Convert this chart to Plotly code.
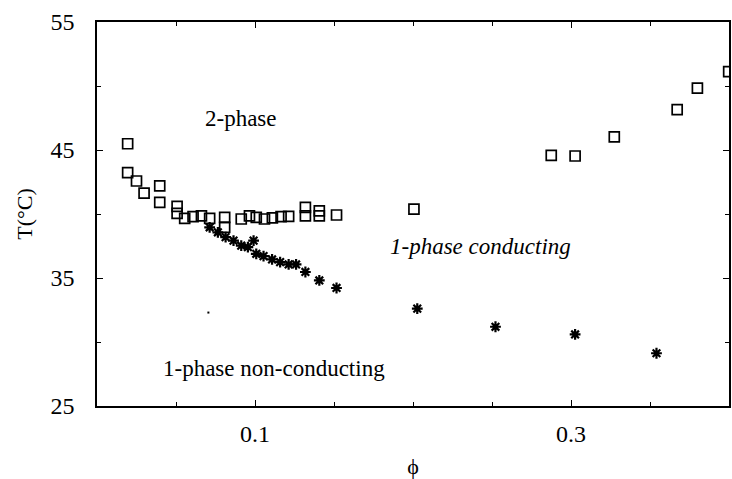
import plotly.graph_objects as go

# Data
sq_x = [0.0194, 0.0194, 0.0250, 0.0298, 0.0397, 0.0397, 0.0507, 0.0507, 0.0555, 0.0608,
        0.0661, 0.0713, 0.0808, 0.0808, 0.0913, 0.0965, 0.1008, 0.1060, 0.1110, 0.1165,
        0.1213, 0.1319, 0.1319, 0.1407, 0.1407, 0.1516,
        0.2006, 0.2875, 0.3026, 0.3274, 0.3672, 0.3800, 0.3998]
sq_T = [45.49, 43.24, 42.58, 41.63, 42.20, 40.91, 40.59, 40.05, 39.66, 39.79,
        39.86, 39.66, 39.74, 38.96, 39.61, 39.86, 39.74, 39.61, 39.69, 39.79,
        39.82, 40.52, 39.86, 40.25, 39.86, 39.92,
        40.38, 44.58, 44.53, 46.03, 48.15, 49.84, 51.13]

st_x = [0.0713, 0.0765, 0.0814, 0.0864, 0.0913, 0.0955, 0.0991, 0.1008, 0.1054, 0.1108,
        0.1159, 0.1213, 0.1260, 0.1319, 0.1407, 0.1516,
        0.2027, 0.2522, 0.3026, 0.3541]
st_T = [38.96, 38.57, 38.19, 37.92, 37.53, 37.41, 37.92, 36.89, 36.71, 36.45,
        36.24, 36.06, 36.06, 35.47, 34.81, 34.22,
        32.61, 31.19, 30.59, 29.12]

dot_x = [0.0705]
dot_T = [32.3]

x_ticks = [0.1, 0.3]
x_tick_text = ["0.1", "0.3"]
y_ticks = [25, 35, 45, 55]
y_tick_text = ["25", "35", "45", "55"]

labels = [
    dict(x=0.0909, y=47.45, text="2-phase", italic=False),
    dict(x=0.2429, y=37.5, text="1-phase conducting", italic=True),
    dict(x=0.1123, y=27.95, text="1-phase non-conducting", italic=False),
]

SERIF = "Liberation Serif, Times New Roman, serif"

fig = go.Figure()
fig.add_trace(go.Scatter(
    x=sq_x, y=sq_T, mode="markers",
    marker=dict(symbol="square-open", size=10, color="black", line=dict(width=1.7, color="black")),
    showlegend=False, hoverinfo="skip"))
fig.add_trace(go.Scatter(
    x=st_x, y=st_T, mode="markers",
    marker=dict(symbol="asterisk-open", size=9, color="black", line=dict(width=2.2, color="black")),
    showlegend=False, hoverinfo="skip"))
fig.add_trace(go.Scatter(
    x=dot_x, y=dot_T, mode="markers",
    marker=dict(symbol="square", size=2, color="black"),
    showlegend=False, hoverinfo="skip"))

for lb in labels:
    txt = f"<i>{lb['text']}</i>" if lb["italic"] else lb["text"]
    fig.add_annotation(x=lb["x"], y=lb["y"], text=txt, showarrow=False,
                       font=dict(family=SERIF, size=23, color="black"),
                       xanchor="center", yanchor="middle")

fig.update_layout(
    width=732, height=479,
    margin=dict(l=97, r=1, t=22, b=71),
    paper_bgcolor="white", plot_bgcolor="white",
    font=dict(family=SERIF, color="black"),
)
fig.update_xaxes(
    range=[0, 0.4], tickvals=x_ticks, ticktext=x_tick_text,
    ticks="inside", ticklen=6, tickwidth=1.2, tickcolor="black",
    showline=True, linecolor="black", linewidth=1.5, mirror="ticks",
    showgrid=False, zeroline=False,
    tickfont=dict(family=SERIF, size=24, color="black"),
    ticklabelstandoff=5,
    minor=dict(dtick=0.05, tick0=0, ticks="inside", ticklen=4, tickcolor="black", showgrid=False),
    title=dict(text="ϕ", font=dict(family=SERIF, size=22, color="black"), standoff=16),
)
fig.update_yaxes(
    range=[25, 55], tickvals=y_ticks, ticktext=y_tick_text,
    ticks="inside", ticklen=6, tickwidth=1.2, tickcolor="black",
    showline=True, linecolor="black", linewidth=1.5, mirror="ticks",
    showgrid=False, zeroline=False,
    tickfont=dict(family=SERIF, size=24, color="black"),
    ticklabelstandoff=16,
    minor=dict(dtick=5, tick0=25, ticks="inside", ticklen=4, tickcolor="black", showgrid=False),
    title=dict(text="T(°C)", font=dict(family=SERIF, size=22, color="black"), standoff=12),
)

fig.write_html("out.html")
